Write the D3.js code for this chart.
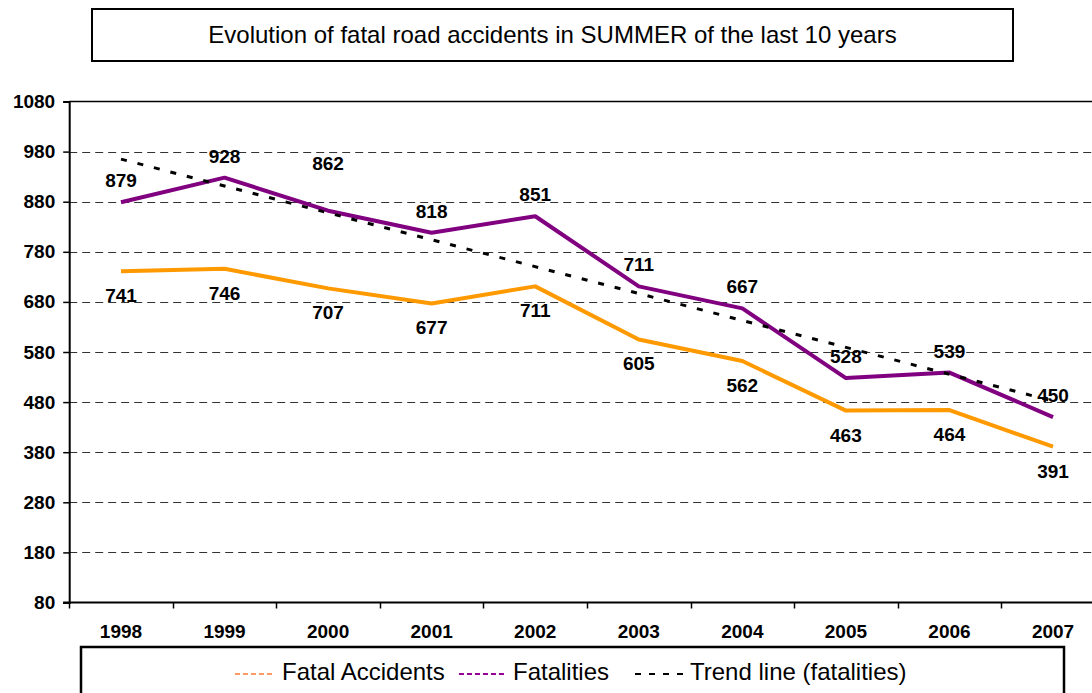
<!DOCTYPE html>
<html>
<head>
<meta charset="utf-8">
<script src="https://cdn.jsdelivr.net/npm/d3@7"></script>
<style>
  body { margin: 0; background: #fff; }
  text { font-family: Arial, "Liberation Sans", sans-serif; }
</style>
</head>
<body>
<script>
// chart values
var years = ["1998", "1999", "2000", "2001", "2002", "2003", "2004", "2005", "2006", "2007"];
var fatalAccidents = [741, 746, 707, 677, 711, 605, 562, 463, 464, 391];
var fatalities = [879, 928, 862, 818, 851, 711, 667, 528, 539, 450];
// trend line of fatalities, first and last year
var trendYears = ["1998", "2007"];
var trendValues = [965, 482];
var yTicks = [80, 180, 280, 380, 480, 580, 680, 780, 880, 980, 1080];
var legendNames = ["Fatal Accidents", "Fatalities", "Trend line (fatalities)"];

var width = 1092, height = 693;
var plotLeft = 69.2, plotRight = 1104.8, plotTop = 101.5, plotBottom = 602.5;

var svg = d3.select("body").append("svg")
    .attr("width", width)
    .attr("height", height);

var x = d3.scaleBand().domain(years).range([plotLeft, plotRight]).padding(0);
var y = d3.scaleLinear().domain([80, 1080]).range([plotBottom, plotTop]);
var cx = function (d) { return x(d) + x.bandwidth() / 2; };

// title box
svg.append("rect")
    .attr("x", 92).attr("y", 9)
    .attr("width", 921).attr("height", 52)
    .style("fill", "none").style("stroke", "#000").style("stroke-width", 2);
svg.append("text")
    .attr("x", 552.5).attr("y", 43)
    .attr("text-anchor", "middle")
    .attr("font-size", "24px")
    .text("Evolution of fatal road accidents in SUMMER of the last 10 years");

// dashed gridlines
svg.append("g").selectAll("line")
    .data(yTicks.filter(function (d) { return d > 80 && d < 1080; }))
    .enter().append("line")
    .attr("x1", plotLeft).attr("x2", width)
    .attr("y1", function (d) { return Math.round(y(d)) + 0.5; })
    .attr("y2", function (d) { return Math.round(y(d)) + 0.5; })
    .style("stroke", "#333")
    .style("stroke-width", 1)
    .style("stroke-dasharray", "8,5");

// top border of plot
svg.append("line")
    .attr("x1", plotLeft).attr("x2", width)
    .attr("y1", y(1080)).attr("y2", y(1080))
    .style("stroke", "#000").style("stroke-width", 1.5);

// y axis
var yAxis = d3.axisLeft(y).tickValues(yTicks).tickFormat(d3.format("d")).tickSize(6).tickPadding(8);
var gy = svg.append("g").attr("transform", "translate(" + plotLeft + ",0)").call(yAxis);
gy.select(".domain").style("stroke-width", 2);
gy.selectAll(".tick line").style("stroke-width", 1.5);
gy.selectAll("text").attr("font-size", "19px").attr("font-weight", "bold")
    .attr("font-family", "Arial, 'Liberation Sans', sans-serif").attr("fill", "#000");

// x axis with ticks between the categories
var xAxis = d3.axisBottom(x).tickSize(0).tickPadding(22);
var gx = svg.append("g").attr("transform", "translate(0," + plotBottom + ")").call(xAxis);
gx.select(".domain").remove();
gx.selectAll("text").attr("font-size", "19px").attr("font-weight", "bold")
    .attr("font-family", "Arial, 'Liberation Sans', sans-serif").attr("fill", "#000");
svg.append("line")
    .attr("x1", plotLeft - 6).attr("x2", width)
    .attr("y1", plotBottom).attr("y2", plotBottom)
    .style("stroke", "#000").style("stroke-width", 2);
svg.append("g").selectAll("line")
    .data(years)
    .enter().append("line")
    .attr("x1", function (d) { return Math.round(x(d)) + 0.5; })
    .attr("x2", function (d) { return Math.round(x(d)) + 0.5; })
    .attr("y1", plotBottom).attr("y2", plotBottom + 6)
    .style("stroke", "#000").style("stroke-width", 1.5);

// data labels
svg.append("g").selectAll("text")
    .data(fatalAccidents)
    .enter().append("text")
    .attr("x", function (d, i) { return cx(years[i]); })
    .attr("y", function (d) { return y(d) + 31; })
    .attr("text-anchor", "middle")
    .attr("font-size", "19px").attr("font-weight", "bold")
    .text(function (d) { return d; });

svg.append("g").selectAll("text")
    .data(fatalities)
    .enter().append("text")
    .attr("x", function (d, i) { return cx(years[i]); })
    .attr("y", function (d, i) { return y(d) - (years[i] == "2000" ? 41 : 15); })
    .attr("text-anchor", "middle")
    .attr("font-size", "19px").attr("font-weight", "bold")
    .text(function (d) { return d; });

// lines
var line = d3.line()
    .x(function (d, i) { return cx(years[i]); })
    .y(function (d) { return y(d); });

svg.append("path")
    .datum(fatalAccidents)
    .attr("d", line)
    .style("fill", "none").style("stroke", "#FF9900").style("stroke-width", 4)
    .style("stroke-linejoin", "round");

svg.append("path")
    .datum(fatalities)
    .attr("d", line)
    .style("fill", "none").style("stroke", "#800080").style("stroke-width", 4)
    .style("stroke-linejoin", "round");

var trendLine = d3.line()
    .x(function (d, i) { return cx(trendYears[i]); })
    .y(function (d) { return y(d); });

svg.append("path")
    .datum(trendValues)
    .attr("d", trendLine)
    .style("fill", "none").style("stroke", "#000").style("stroke-width", 3)
    .style("stroke-dasharray", "6,11");

// legend box
svg.append("rect")
    .attr("x", 81).attr("y", 647)
    .attr("width", 983).attr("height", 60)
    .style("fill", "#fff").style("stroke", "#000").style("stroke-width", 2.5);

var legendItems = [
    { name: legendNames[0], color: "#FF9966", dash: "5,3", x1: 235, x2: 273, tx: 282 },
    { name: legendNames[1], color: "#990099", dash: "5,3", x1: 459, x2: 505, tx: 513 },
    { name: legendNames[2], color: "#000", dash: "6,8", x1: 635, x2: 686, tx: 690 }
];
var lg = svg.append("g").selectAll("g").data(legendItems).enter().append("g");
lg.append("line")
    .attr("x1", function (d) { return d.x1; })
    .attr("x2", function (d) { return d.x2; })
    .attr("y1", 674).attr("y2", 674)
    .style("stroke", function (d) { return d.color; })
    .style("stroke-width", 2)
    .style("stroke-dasharray", function (d) { return d.dash; });
lg.append("text")
    .attr("x", function (d) { return d.tx; })
    .attr("y", 680)
    .attr("font-size", "24px")
    .text(function (d) { return d.name; });
</script>
</body>
</html>
